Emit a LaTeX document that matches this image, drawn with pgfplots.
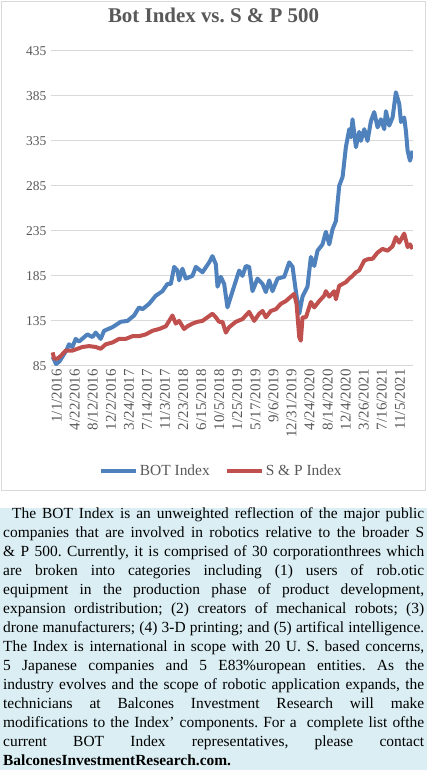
\documentclass[border=0pt]{standalone}
\usepackage{pgfplots}
\pgfplotsset{compat=1.18}
\usepackage{fontspec}
\setmainfont{Liberation Serif}
\definecolor{botblue}{HTML}{4F81BD}
\definecolor{spred}{HTML}{C0504D}
\definecolor{txtgray}{HTML}{595959}
\definecolor{gridgray}{HTML}{D9D9D9}
\definecolor{boxblue}{HTML}{DAEEF3}
\frenchspacing
\begin{document}
\begin{tikzpicture}[x=1bp,y=1bp]
\path[use as bounding box] (0,0) rectangle (427,770);
\fill[white] (0,0) rectangle (427,770);
\draw[gridgray, line width=0.8bp] (1.5,280) rectangle (425.5,769);
\fill[boxblue] (0,0) rectangle (427,262);
\node[anchor=north west, inner sep=0pt, text width=421bp, align=justify, font=\fontsize{15.5}{19.1}\selectfont] at (3,263) {\hspace*{9bp}The BOT Index is an unweighted reflection of the major public\linebreak
companies that are involved in robotics relative to the broader S\linebreak
\& P 500. Currently, it is comprised of 30 corporationthrees which\linebreak
are broken into categories including (1) users of rob.otic\linebreak
equipment in the production phase of product development,\linebreak
expansion ordistribution; (2) creators of mechanical robots; (3)\linebreak
drone manufacturers; (4) 3-D printing; and (5) artifical intelligence.\linebreak
The Index is international in scope with 20 U. S. based concerns,\linebreak
5 Japanese companies and 5 E83\%uropean entities. As the\linebreak
industry evolves and the scope of robotic application expands, the\linebreak
technicians at Balcones Investment Research will make\linebreak
modifications to the Index' components. For a\ \ complete list ofthe\linebreak
current BOT Index representatives, please contact\linebreak
\textbf{BalconesInvestmentResearch.com.}\par};
\node[font=\bfseries\fontsize{21}{21}\selectfont, text=txtgray] at (213.5,755) {Bot Index vs. S \& P 500};
\begin{axis}[
  at={(45,449)}, anchor=south west,
  scale only axis, width=362bp, height=315bp,
  xmin=-1.7, xmax=319, ymin=85, ymax=435,
  ytick={85,135,185,235,285,335,385,435},
  xtick={0,16,32,48,64,80,96,112,128,144,160,176,192,208,224,240,256,272,288,304},
  xticklabels={1/1/2016,4/22/2016,8/12/2016,12/2/2016,3/24/2017,7/14/2017,11/3/2017,2/23/2018,6/15/2018,10/5/2018,1/25/2019,5/17/2019,9/6/2019,12/31/2019,4/24/2020,8/14/2020,12/4/2020,3/26/2021,7/16/2021,11/5/2021},
  ymajorgrids, grid style={gridgray, line width=0.8bp},
  axis line style={draw=none}, major tick length=0,
  tick label style={font=\fontsize{13.5}{13.5}\selectfont, text=txtgray},
  /pgf/number format/assume math mode=true,
  xticklabel style={rotate=90, anchor=east, yshift=-4bp, font=\fontsize{15}{15}\selectfont},
  yticklabel style={xshift=-1bp},
  legend columns=2,
  legend style={at={(0.471,-0.333)}, anchor=center, draw=none, fill=none, font=\fontsize{15.5}{15.5}\selectfont, text=txtgray, /tikz/every even column/.append style={column sep=13bp}},
  legend image code/.code={\draw[#1, line width=4bp] (0,0) -- (35bp,0);},
  every axis plot/.append style={line width=4bp, line join=round},
]
\addplot[botblue] coordinates {
(0,95) (3,87) (6,90) (12,102) (14.5,109) (17.4,106) (20.4,115) (23.3,112) (30.7,120) (35.2,117) (38.1,122) (42.5,115) (45.5,124) (52.9,128) (60.3,134) (66.2,135) (72.1,141) (76.5,150) (79.5,148) (85.4,154) (91.3,163) (97.2,168) (101.6,176) (104.6,176) (107.6,195) (110.5,191) (112,180) (114.9,193) (117.9,182) (123.8,185) (126.8,195) (132.7,189) (138.6,200) (141.5,207) (144.5,198) (146,173) (148.9,184) (151.9,176) (154.8,150) (159.3,168) (165.2,191) (168.1,185) (171.1,196) (174,195) (177,168) (181.4,182) (185.9,176) (188.8,167) (191.8,180) (194.7,168) (199.2,182) (205.1,184) (209.5,200) (212.5,195) (215.4,168) (218.4,143) (221.3,162) (225.7,173) (228.7,206) (231.7,196) (234.6,213) (239,220) (242,234) (245,220) (247.9,237) (250.9,246) (252.3,265) (253.8,285) (256.8,295) (259.7,328) (262.7,348) (264.2,339) (265.6,359) (268.6,328) (271.5,345) (273,335) (276,348) (278.9,335) (281.9,357) (284.8,367) (287.8,350) (290.7,359) (293.7,348) (295.2,368) (298.1,352) (301.1,361) (304,389) (307,376) (308.5,356) (311.4,361) (312.9,346) (314.4,324) (316.5,313) (318.8,324)
};
\addlegendentry{BOT Index}
\addplot[spred] coordinates {
(0,100) (1.2,93) (4.1,93) (7.1,96) (11.5,102) (17.4,102) (21.9,104) (26.3,106) (32.2,107) (38.1,106) (42.5,104) (47,109) (52.9,111) (58.8,115) (64.7,115) (70.6,118) (76.5,118) (82.4,120) (88.3,124) (94.3,126) (100.2,129) (106.1,141) (109,132) (112,135) (116.4,126) (119.4,129) (123.8,132) (128.2,134) (132.7,135) (137.1,139) (141.5,143) (144.5,139) (147.4,134) (150.4,134) (153.4,122) (156.3,128) (162.2,134) (168.1,137) (174,145) (178.5,135) (182.9,143) (185.9,146) (188.8,139) (193.2,146) (197.7,148) (202.1,154) (206.5,157) (211,162) (213.9,165) (216,154) (218.4,117) (219.8,113) (221.3,139) (224.3,139) (228.7,156) (231.7,150) (236.1,157) (240.5,163) (242,168) (245,162) (249.4,168) (250.9,159) (253.8,174) (259.7,178) (262.7,182) (265.6,185) (268.6,189) (271.5,191) (276,202) (280.4,204) (283.4,204) (287.8,211) (292.2,215) (296.7,213) (301.1,218) (304,228) (307,222) (311.4,232) (314.4,217) (316.5,220) (318.8,215)
};
\addlegendentry{S \& P Index}
\end{axis}
\end{tikzpicture}
\end{document}
